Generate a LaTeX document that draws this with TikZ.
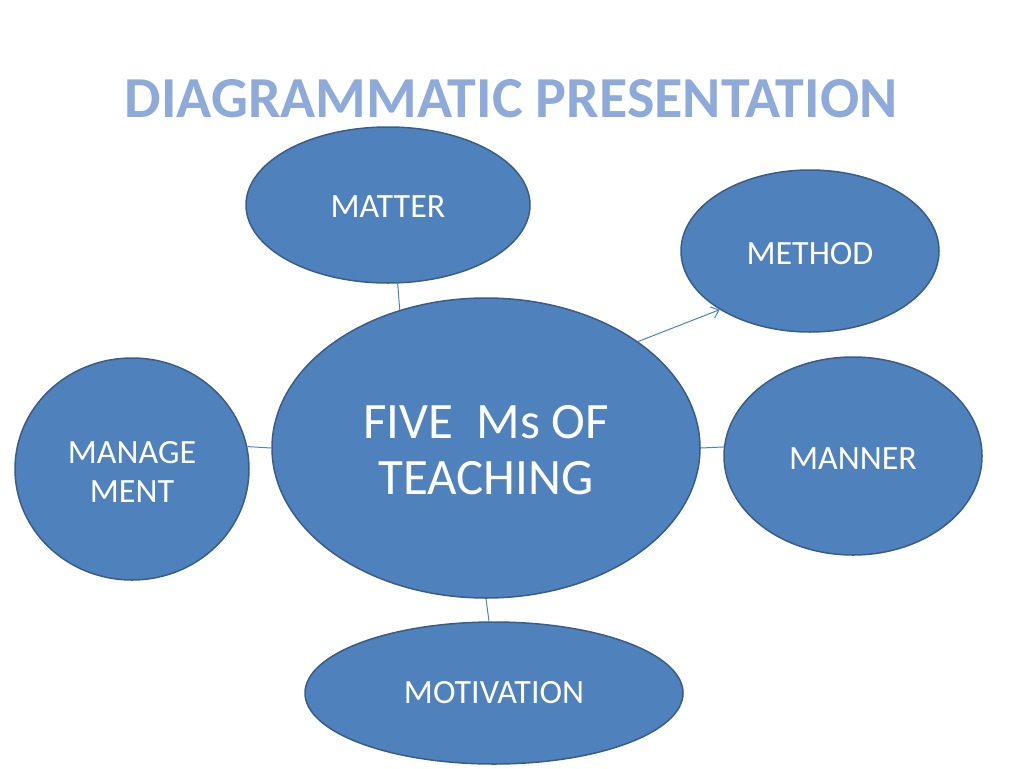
\documentclass[tikz,border=0pt]{standalone}
\usepackage{fontspec}
\setmainfont{Carlito}
\usetikzlibrary{shapes.geometric,arrows.meta}
\definecolor{titleblue}{HTML}{8EAADB}
\definecolor{fillblue}{HTML}{4F81BD}
\definecolor{edgeblue}{HTML}{385D8A}
\newcommand\bubtext[2]{\smash{\makebox[0pt]{\raisebox{#1}{#2}}}}
\newcommand\bublines[3]{\bubtext{#1}{\parbox[t]{400pt}{\centering\fontsize{#2}{#3}\selectfont #3}}}
\tikzset{
  bubble/.style={ellipse, draw=edgeblue, line width=1.5pt, fill=fillblue, text=white, inner sep=0pt},
  smalltext/.style={font=\fontsize{34}{39}\selectfont},
  link/.style={draw=fillblue, line width=1pt},
}
\begin{document}
\begin{tikzpicture}[x=1pt,y=-1pt]
\useasboundingbox (0,0) rectangle (1024,768);
\node[text=titleblue, font=\fontsize{58}{70}\selectfont\bfseries] (title) at (511,99) {DIAGRAMMATIC PRESENTATION};
\node[bubble, minimum width=428pt, minimum height=300pt, font=\fontsize{51}{56}\selectfont] (center) at (486,448)
  {\bubtext{10pt}{\parbox[t]{400pt}{\centering FIVE\ \ Ms OF\\TEACHING}}};
\node[bubble, minimum width=284pt, minimum height=156pt, smalltext] (matter) at (388,205) {\bubtext{-12pt}{MATTER}};
\node[bubble, minimum width=258pt, minimum height=162pt, smalltext] (method) at (810,251) {\bubtext{-13pt}{METHOD}};
\node[bubble, minimum width=234pt, minimum height=222pt, smalltext] (management) at (132,469)
  {\bubtext{6pt}{\parbox[t]{200pt}{\centering MANAGE\\MENT}}};
\node[bubble, minimum width=258pt, minimum height=198pt, smalltext] (manner) at (853,456) {\bubtext{-13pt}{MANNER}};
\node[bubble, minimum width=378pt, minimum height=142pt, smalltext] (motivation) at (494,693) {\bubtext{-10pt}{MOTIVATION}};
\draw[link] (matter.277) -- (center.122);
\draw[link, -{Straight Barb[length=7pt,width=12pt]}] (center.35) -- (method.213);
\draw[link] (management.11) -- (center.180);
\draw[link] (center.0) -- (manner.176);
\draw[link] (center.270) -- (motivation.94);
\end{tikzpicture}
\end{document}
